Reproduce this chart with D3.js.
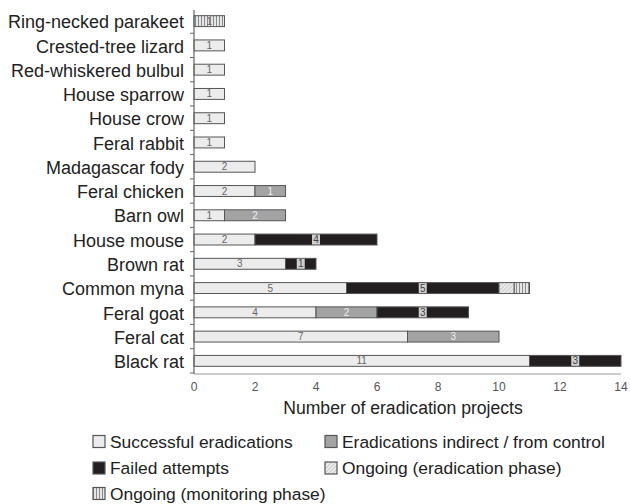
<!DOCTYPE html>
<html><head><meta charset="utf-8">
<script src="https://cdn.jsdelivr.net/npm/d3@7"></script>
<style>body{margin:0;background:#fff;}svg{display:block;font-family:"Liberation Sans",Arial,sans-serif;}</style>
</head><body>
<svg id="c" width="630" height="504"></svg>
<script>
const categories = ["Ring-necked parakeet","Crested-tree lizard","Red-whiskered bulbul","House sparrow","House crow","Feral rabbit","Madagascar fody","Feral chicken","Barn owl","House mouse","Brown rat","Common myna","Feral goat","Feral cat","Black rat"];
const successful   = [0,1,1,1,1,1,2,2,1,2,3,5,4,7,11];
const indirect     = [0,0,0,0,0,0,0,1,2,0,0,0,2,3,0];
const failed       = [0,0,0,0,0,0,0,0,0,4,1,5,3,0,3];
const ongoingErad  = [0,0,0,0,0,0,0,0,0,0,0,0.5,0,0,0];
const ongoingMon   = [1,0,0,0,0,0,0,0,0,0,0,0.5,0,0,0];
const seriesNames = ["Successful eradications","Eradications indirect / from control","Failed attempts","Ongoing (eradication phase)","Ongoing (monitoring phase)"];
const xTicks = [0,2,4,6,8,10,12,14];

const svg = d3.select("#c");
const defs = svg.append("defs");
const pd = defs.append("pattern").attr("id","diag").attr("patternUnits","userSpaceOnUse").attr("width",4).attr("height",4);
pd.append("rect").attr("width",4).attr("height",4).attr("fill","#d4d4d4");
pd.append("path").attr("d","M-1,5 L5,-1 M3,5 L5,3 M-1,1 L1,-1").attr("stroke","#f4f4f4").attr("stroke-width",1.2);
const pv = defs.append("pattern").attr("id","vert").attr("patternUnits","userSpaceOnUse").attr("width",3).attr("height",4);
pv.append("rect").attr("width",3).attr("height",4).attr("fill","#e6e6e6");
pv.append("rect").attr("width",1).attr("height",4).attr("fill","#8a8a8a");

const fills = ["#ececec","#a3a3a3","#231f20","url(#diag)","url(#vert)"];
const data = categories.map((c,i)=>({cat:c, s0:successful[i], s1:indirect[i], s2:failed[i], s3:ongoingErad[i], s4:ongoingMon[i]}));
const keys = ["s0","s1","s2","s3","s4"];
const stack = d3.stack().keys(keys)(data);

const x = d3.scaleLinear().domain([0,14]).range([194,621]);
const y = d3.scaleBand().domain(categories).range([9,373]).paddingInner(0.55).paddingOuter(0.275);

// bars
stack.forEach((layer,k)=>{
  const g = svg.append("g");
  layer.forEach((d,i)=>{
    const v = d[1]-d[0];
    if(v<=0) return;
    g.append("rect").attr("x",x(d[0])).attr("y",y(categories[i])).attr("width",x(d[1])-x(d[0])).attr("height",y.bandwidth())
      .attr("fill",fills[k]).attr("stroke","#555").attr("stroke-width",1);
  });
});
// data labels
stack.forEach((layer,k)=>{
  layer.forEach((d,i)=>{
    const v = d[1]-d[0];
    if(v<=0) return;
    const cx = (x(d[0])+x(d[1]))/2, cy = y(categories[i])+y.bandwidth()/2;
    const txt = v<1 ? "" : String(v);
    if(k===2){
      svg.append("rect").attr("x",cx-4).attr("y",cy-5).attr("width",8).attr("height",10).attr("fill","#d0d0d0");
    }
    if(txt) svg.append("text").attr("x",cx).attr("y",cy).attr("dy","0.35em").attr("text-anchor","middle")
      .attr("font-size",10).attr("fill",k===2?"#444":(k===1?"#eee":"#666")).text(txt);
  });
});

// axes
svg.append("line").attr("x1",194).attr("x2",194).attr("y1",10).attr("y2",374).attr("stroke","#666").attr("stroke-width",1.2);
svg.append("line").attr("x1",194).attr("x2",621).attr("y1",374).attr("y2",374).attr("stroke","#999").attr("stroke-width",1.2);
categories.forEach((c,i)=>{
  const yy = y(c)-y.step()*y.paddingInner()/2;
  svg.append("line").attr("x1",190).attr("x2",194).attr("y1",yy+y.step()).attr("y2",yy+y.step()).attr("stroke","#666");
});
svg.append("g").selectAll("text").data(categories).join("text")
  .attr("x",184).attr("y",d=>y(d)+y.bandwidth()/2).attr("dy","0.4em").attr("text-anchor","end")
  .attr("font-size",18).attr("fill","#222").text(d=>d);
svg.append("g").selectAll("text").data(xTicks).join("text")
  .attr("x",d=>x(d)).attr("y",387).attr("dy","0.35em").attr("text-anchor","middle")
  .attr("font-size",12).attr("fill","#555").text(d=>d);
svg.append("text").attr("x",403).attr("y",414).attr("text-anchor","middle")
  .attr("font-size",17.6).attr("fill","#222").text("Number of eradication projects");

// legend
const legPos = [[93,447.5],[325,447.5],[93,474],[325,474],[93,499.5]];
seriesNames.forEach((n,k)=>{
  const [lx,ly] = legPos[k];
  svg.append("rect").attr("x",lx).attr("y",ly-12).attr("width",12).attr("height",12).attr("fill",fills[k]).attr("stroke","#555").attr("stroke-width",1.2);
  svg.append("text").attr("x",lx+17).attr("y",ly).attr("font-size",17.4).attr("fill","#222").text(n);
});
</script>
</body></html>
